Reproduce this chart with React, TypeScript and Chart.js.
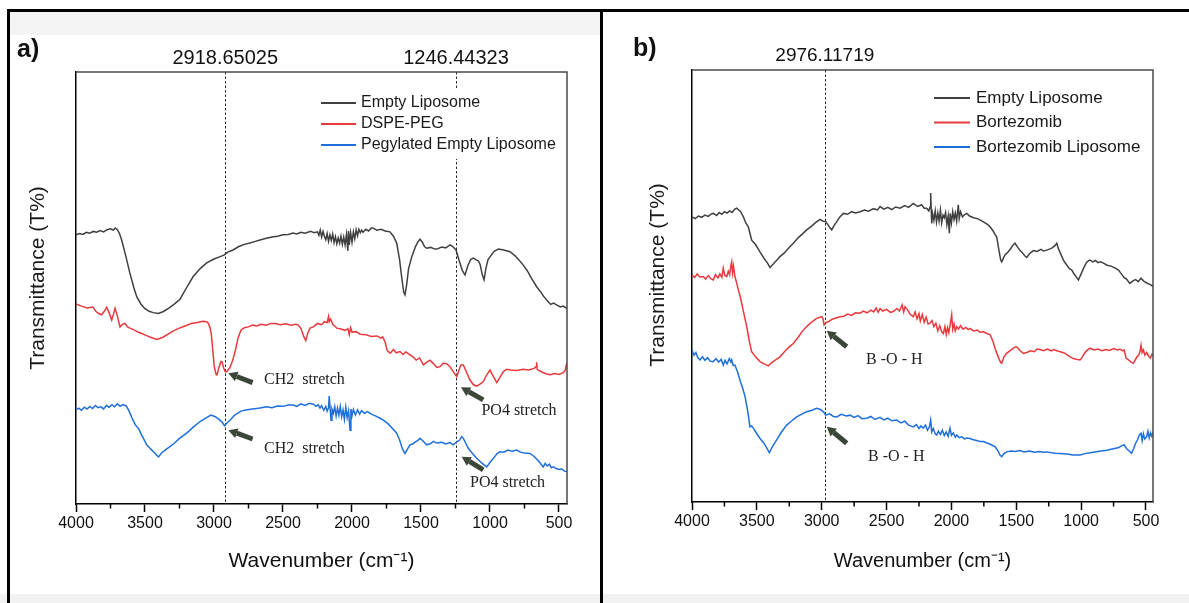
import React, { useEffect, useRef } from "react";
import { Chart, registerables } from "chart.js";
Chart.register(...registerables);

type P = [number, number];

// ---------- Panel a data (wavenumber, transmittance in arbitrary %) ----------
const emptyLiposomeA: P[] = [
  [4000,62.3],[3975,62.6],[3950,62.4],[3925,62.9],[3900,62.7],[3875,63.1],[3850,62.9],[3825,63.3],[3800,63.0],[3775,63.5],
  [3750,63.7],[3730,63.4],[3715,63.9],[3700,63.5],[3685,62.6],[3669,61.1],[3640,57.5],[3610,53.5],[3580,50.0],[3560,48.0],
  [3530,46.3],[3500,45.2],[3470,44.6],[3440,44.3],[3404,44.1],[3370,44.5],[3330,45.3],[3290,46.2],[3246,47.4],[3200,50.0],
  [3152,52.6],[3100,54.5],[3053,55.8],[3000,56.7],[2960,57.2],[2928,57.6],[2900,58.3],[2862,58.8],[2820,59.6],[2780,60.1],
  [2740,60.4],[2700,60.8],[2667,61.1],[2620,61.5],[2580,61.8],[2540,62.0],[2500,62.3],[2460,62.4],[2428,62.7],[2400,62.5],
  [2370,62.9],[2340,62.7],[2300,63.1],[2275,62.8],[2250,63.0],[2240,62.2],[2230,63.4],[2220,61.8],[2210,63.1],[2200,62.0],
  [2190,61.2],[2180,62.6],[2170,60.8],[2160,62.3],[2150,61.0],[2140,62.5],[2130,60.5],[2120,61.9],[2110,60.2],[2100,61.6],
  [2090,60.4],[2080,62.0],[2070,60.1],[2060,61.8],[2050,60.0],[2040,62.4],[2030,58.6],[2025,63.2],[2020,60.0],[2010,62.8],
  [2000,60.6],[1990,63.0],[1980,61.4],[1970,63.5],[1960,62.1],[1950,63.6],[1940,62.8],[1930,63.4],[1920,62.9],[1900,63.6],
  [1880,63.2],[1860,63.9],[1848,63.9],[1820,63.4],[1790,63.6],[1760,63.2],[1725,63.0],[1700,62.0],[1676,60.4],[1655,56.5],
  [1640,52.5],[1625,49.0],[1616,48.4],[1605,50.5],[1590,54.5],[1567,57.2],[1540,59.6],[1520,60.8],[1507,61.3],[1490,60.6],
  [1475,59.6],[1459,59.2],[1430,59.4],[1400,59.0],[1386,59.0],[1350,59.5],[1320,59.3],[1290,60.0],[1270,59.6],[1246,58.8],
  [1225,56.5],[1200,54.0],[1181,53.0],[1160,55.2],[1140,56.6],[1121,56.9],[1100,56.5],[1085,56.3],[1072,55.5],[1055,53.0],
  [1043,51.9],[1030,54.5],[1015,56.5],[1000,57.2],[970,58.5],[940,59.0],[900,58.8],[855,58.4],[820,57.5],[790,56.5],
  [759,55.3],[730,54.0],[700,52.3],[662,50.3],[630,49.0],[610,48.0],[589,47.2],[560,46.2],[540,46.5],[517,46.1],
  [490,45.6],[470,45.8],[444,45.3],
];

const dspePegA: P[] = [
  [4000,46.3],[3960,45.8],[3920,45.4],[3877,45.6],[3857,44.6],[3835,44.1],[3814,43.8],[3795,44.6],[3778,45.5],[3760,44.3],
  [3741,42.6],[3728,44.0],[3717,45.3],[3700,43.5],[3681,41.0],[3663,41.6],[3645,41.8],[3627,41.0],[3609,40.7],[3580,40.3],
  [3550,39.8],[3520,39.4],[3497,39.1],[3460,38.6],[3413,38.1],[3370,38.6],[3330,39.4],[3304,39.9],[3260,40.6],[3210,41.2],
  [3164,41.8],[3120,42.0],[3080,42.3],[3053,42.2],[3040,41.8],[3031,41.0],[3020,39.5],[3010,36.0],[2998,31.8],[2985,30.0],
  [2978,29.9],[2965,31.5],[2950,33.0],[2942,32.9],[2930,31.5],[2918,30.6],[2908,30.6],[2895,31.2],[2887,31.4],[2865,33.2],
  [2845,35.6],[2825,38.5],[2804,40.3],[2780,40.8],[2750,41.0],[2720,41.4],[2690,41.2],[2660,41.6],[2620,41.4],[2590,41.8],
  [2554,41.8],[2520,41.5],[2480,41.7],[2440,41.4],[2410,41.6],[2388,41.4],[2370,40.6],[2350,38.8],[2335,37.8],[2320,39.6],
  [2304,40.7],[2280,41.0],[2250,41.8],[2220,41.5],[2200,42.2],[2180,42.0],[2170,43.4],[2165,42.2],[2155,42.8],[2140,41.6],
  [2125,41.2],[2110,40.7],[2080,40.5],[2050,40.2],[2030,40.6],[2020,39.2],[2010,40.8],[2000,39.8],[1971,39.9],[1940,39.3],
  [1900,39.2],[1860,38.8],[1820,38.9],[1790,38.4],[1778,38.7],[1760,37.5],[1745,35.5],[1735,35.2],[1722,34.9],[1700,35.8],
  [1680,35.0],[1652,35.3],[1630,34.6],[1610,35.2],[1580,34.5],[1555,34.0],[1535,33.3],[1510,33.8],[1483,32.2],[1460,32.8],
  [1435,33.3],[1410,32.5],[1385,31.6],[1362,31.8],[1340,32.6],[1314,32.5],[1290,31.8],[1265,30.6],[1241,29.5],[1225,31.0],
  [1210,32.2],[1193,32.2],[1170,30.5],[1145,28.7],[1120,27.6],[1096,27.3],[1070,27.8],[1049,28.3],[1025,29.8],[1000,31.0],
  [975,29.5],[951,28.1],[930,29.2],[904,30.6],[880,31.2],[850,31.0],[807,30.9],[760,31.2],[720,31.0],[680,31.4],
  [666,31.8],[662,32.8],[658,31.2],[650,31.0],[620,30.5],[590,30.1],[565,29.9],[530,30.2],[500,30.0],[469,30.4],
  [455,31.0],[444,32.6],
];

const pegylatedLiposomeA: P[] = [
  [4000,21.8],[3980,22.2],[3960,21.7],[3940,22.4],[3920,22.0],[3900,22.6],[3880,22.1],[3860,22.8],[3840,22.3],[3820,22.5],
  [3800,22.0],[3780,22.8],[3760,22.4],[3740,23.0],[3720,22.5],[3700,23.2],[3680,22.6],[3660,23.0],[3636,22.7],[3615,21.5],
  [3594,19.9],[3570,18.3],[3545,17.4],[3525,16.0],[3505,14.8],[3488,13.7],[3460,12.8],[3430,11.8],[3402,10.9],[3380,11.8],
  [3350,12.6],[3319,13.3],[3290,14.0],[3250,15.2],[3198,16.4],[3150,17.8],[3101,19.1],[3060,19.9],[3022,20.6],[2990,20.2],
  [2957,19.4],[2940,18.9],[2924,18.1],[2905,18.8],[2884,19.4],[2850,20.6],[2804,21.5],[2760,21.8],[2720,22.0],[2667,22.2],
  [2620,22.5],[2580,22.3],[2540,22.7],[2500,22.6],[2460,22.9],[2425,22.9],[2400,22.6],[2370,23.2],[2340,22.8],[2310,23.3],
  [2280,23.1],[2260,22.6],[2245,23.0],[2232,22.2],[2220,22.8],[2205,21.7],[2190,22.6],[2180,21.5],[2170,22.3],[2165,25.0],
  [2158,21.8],[2152,19.4],[2145,22.0],[2135,21.0],[2125,22.5],[2115,20.4],[2105,22.2],[2095,20.6],[2085,22.6],[2075,20.2],
  [2065,21.8],[2055,19.6],[2045,22.4],[2035,20.0],[2025,21.6],[2014,17.1],[2008,22.0],[2000,20.4],[1990,21.9],[1975,20.6],
  [1960,21.8],[1945,20.8],[1930,21.6],[1910,21.0],[1888,21.4],[1860,20.8],[1830,20.4],[1800,19.9],[1773,19.4],[1740,18.6],
  [1710,17.6],[1690,16.9],[1676,16.4],[1655,14.8],[1635,12.8],[1616,11.7],[1600,12.6],[1580,13.7],[1560,13.9],[1540,14.4],
  [1520,14.8],[1507,15.2],[1485,14.6],[1459,13.7],[1430,14.0],[1410,14.5],[1386,14.1],[1350,14.3],[1320,13.9],[1290,14.2],
  [1266,13.7],[1241,14.4],[1220,14.8],[1205,15.6],[1193,15.2],[1175,14.0],[1157,12.9],[1130,11.8],[1096,10.6],[1060,9.5],
  [1024,8.6],[1000,9.6],[970,10.8],[950,11.6],[928,12.1],[900,12.0],[870,12.5],[840,12.2],[807,12.5],[780,12.0],
  [750,11.8],[710,11.7],[680,11.0],[650,10.0],[630,9.2],[614,8.6],[600,9.4],[585,8.8],[570,9.2],[555,8.4],
  [541,8.6],[520,8.2],[500,8.0],[480,8.1],[460,7.6],[444,7.5],
];

// ---------- Panel b data ----------
const emptyLiposomeB: P[] = [
  [4000,66.0],[3975,65.6],[3950,66.2],[3925,65.9],[3900,66.4],[3875,66.1],[3850,66.7],[3836,66.8],[3810,66.3],[3790,67.0],
  [3770,66.6],[3750,67.2],[3730,66.9],[3710,67.4],[3690,67.0],[3670,67.8],[3655,68.0],[3640,67.6],[3625,67.2],[3604,66.0],
  [3585,64.6],[3566,63.7],[3550,61.8],[3540,60.6],[3510,59.6],[3476,57.9],[3440,56.2],[3420,55.4],[3399,54.3],[3370,55.2],
  [3345,56.0],[3322,56.8],[3290,57.6],[3260,58.6],[3219,59.9],[3180,61.2],[3150,62.0],[3116,63.0],[3080,63.8],[3050,64.6],
  [3013,65.4],[2990,65.0],[2969,64.9],[2950,64.1],[2935,63.4],[2923,63.0],[2905,64.0],[2884,64.9],[2860,66.0],[2833,66.8],
  [2800,66.6],[2770,67.2],[2740,66.9],[2705,67.2],[2670,67.6],[2640,67.3],[2600,67.9],[2570,67.6],[2550,68.4],[2520,67.8],
  [2490,68.2],[2460,67.7],[2430,68.3],[2396,68.0],[2360,68.6],[2330,68.2],[2294,69.1],[2260,68.4],[2230,68.8],[2210,68.0],
  [2191,68.0],[2175,67.4],[2165,68.3],[2160,71.5],[2155,67.0],[2152,64.5],[2145,66.8],[2135,65.2],[2125,67.4],[2115,64.8],
  [2105,66.9],[2095,65.0],[2085,67.6],[2075,64.6],[2065,66.4],[2055,65.8],[2045,67.0],[2035,64.2],[2025,66.2],[2016,62.2],
  [2010,66.8],[2000,64.6],[1990,67.2],[1980,65.4],[1970,66.9],[1960,65.0],[1947,68.8],[1940,65.6],[1930,67.2],[1915,66.0],
  [1900,66.5],[1882,66.8],[1860,66.2],[1830,65.8],[1800,65.6],[1780,65.3],[1750,64.8],[1720,64.2],[1702,63.7],[1680,62.8],
  [1665,62.0],[1651,61.4],[1635,58.5],[1620,56.0],[1612,55.6],[1600,56.4],[1587,57.2],[1560,58.0],[1540,58.8],[1525,59.5],
  [1510,59.9],[1490,59.0],[1470,58.2],[1450,57.6],[1435,57.0],[1419,56.6],[1400,57.4],[1385,57.8],[1368,58.2],[1340,58.0],
  [1310,58.5],[1290,58.1],[1265,58.3],[1240,58.6],[1220,58.9],[1200,59.4],[1188,59.9],[1175,58.6],[1160,57.6],[1137,56.0],
  [1110,54.8],[1090,54.0],[1072,53.7],[1050,52.6],[1035,52.0],[1021,51.4],[1000,52.8],[980,54.2],[960,55.4],[945,55.8],
  [931,56.0],[910,55.6],[890,55.9],[870,55.4],[850,55.6],[828,55.3],[800,54.8],[770,54.6],[740,54.2],[712,53.7],
  [690,52.8],[670,52.0],[650,51.6],[625,50.6],[600,51.2],[580,51.5],[560,51.0],[538,51.8],[520,51.2],[500,50.8],
  [480,50.5],[465,50.3],[452,50.0],[446,49.8],
];

const bortezomibB: P[] = [
  [4000,52.5],[3980,52.0],[3960,52.8],[3940,52.1],[3913,52.2],[3895,51.6],[3875,52.4],[3855,51.7],[3836,51.4],[3820,52.6],
  [3800,51.9],[3785,52.8],[3770,52.0],[3759,54.1],[3748,52.5],[3732,52.2],[3720,53.4],[3710,52.6],[3700,54.8],[3694,55.6],
  [3688,53.0],[3680,54.6],[3669,52.2],[3655,50.6],[3643,49.1],[3630,47.8],[3617,46.0],[3600,43.6],[3578,40.6],[3560,37.5],
  [3540,34.8],[3510,33.6],[3476,32.5],[3440,31.9],[3412,31.5],[3380,32.4],[3350,33.0],[3322,33.6],[3280,35.0],[3250,35.9],
  [3219,36.7],[3180,38.2],[3150,39.5],[3116,40.6],[3080,41.6],[3039,42.5],[3000,42.9],[2990,42.4],[2982,41.0],[2965,41.6],
  [2949,41.7],[2920,42.3],[2890,42.6],[2859,42.9],[2830,43.0],[2800,43.5],[2770,43.2],[2740,43.8],[2705,43.7],[2680,44.2],
  [2650,43.8],[2620,44.4],[2600,44.0],[2580,44.9],[2565,43.9],[2550,44.8],[2530,44.2],[2500,44.6],[2470,43.9],[2448,44.1],
  [2420,44.8],[2400,44.2],[2380,45.6],[2368,44.0],[2358,45.2],[2340,44.6],[2320,43.5],[2294,42.9],[2280,44.0],[2265,42.4],
  [2250,43.6],[2240,41.9],[2225,43.4],[2210,41.6],[2195,42.8],[2180,41.2],[2165,41.4],[2150,42.0],[2135,40.6],[2120,41.4],
  [2105,39.6],[2090,40.8],[2075,39.4],[2062,39.0],[2050,40.6],[2040,38.8],[2030,40.4],[2020,39.2],[2010,41.0],[1998,43.3],
  [1990,40.0],[1980,41.2],[1970,39.6],[1959,40.6],[1945,40.0],[1930,40.8],[1910,40.0],[1890,40.4],[1870,39.9],[1857,40.2],
  [1830,39.6],[1800,39.8],[1780,39.3],[1754,39.4],[1725,39.0],[1702,38.7],[1680,37.2],[1664,35.6],[1640,33.6],[1620,32.3],
  [1612,32.1],[1595,33.6],[1574,34.4],[1540,35.2],[1510,35.9],[1496,35.9],[1470,35.0],[1445,34.4],[1419,34.6],[1390,35.0],
  [1360,34.8],[1340,35.4],[1317,35.3],[1290,35.0],[1260,35.4],[1230,35.0],[1210,35.3],[1188,35.0],[1160,34.8],[1130,34.5],
  [1105,34.0],[1085,33.6],[1060,33.2],[1030,33.0],[1008,32.9],[990,33.6],[970,34.6],[950,35.2],[931,35.6],[900,35.2],
  [870,35.4],[840,35.0],[810,35.3],[780,35.1],[750,35.5],[720,35.2],[700,35.4],[680,35.0],[669,35.2],[660,34.2],
  [654,33.3],[630,32.8],[615,32.4],[597,32.1],[585,32.8],[570,33.6],[555,34.0],[545,35.0],[538,36.3],[530,34.6],
  [520,35.2],[509,34.0],[495,34.6],[480,33.8],[466,33.3],[455,34.2],[443,34.0],
];

const bortezomibLiposomeB: P[] = [
  [4000,35.2],[3985,34.0],[3970,34.6],[3955,33.4],[3938,32.9],[3920,33.6],[3900,32.8],[3880,33.4],[3860,32.6],[3836,32.5],
  [3815,33.2],[3795,32.4],[3775,33.0],[3759,31.7],[3745,32.8],[3730,32.0],[3712,33.2],[3700,32.4],[3694,32.9],[3682,31.6],
  [3669,31.7],[3650,30.2],[3630,28.2],[3610,26.4],[3591,24.4],[3570,21.0],[3553,17.4],[3540,17.6],[3527,17.1],[3500,15.8],
  [3476,14.7],[3450,13.8],[3429,12.8],[3404,11.4],[3380,12.8],[3347,14.4],[3310,16.2],[3270,17.8],[3230,18.8],[3193,19.7],
  [3150,20.4],[3116,20.9],[3080,21.2],[3039,21.7],[3010,21.4],[2990,21.0],[2969,20.1],[2940,20.4],[2910,19.8],[2884,19.7],
  [2850,20.3],[2810,19.9],[2782,20.1],[2750,19.6],[2720,20.0],[2690,19.3],[2653,19.4],[2620,19.8],[2590,19.1],[2550,19.6],
  [2520,19.0],[2490,19.4],[2460,18.8],[2422,19.0],[2390,18.3],[2360,18.7],[2330,17.8],[2294,17.4],[2270,17.9],[2250,17.0],
  [2235,17.6],[2217,17.1],[2200,17.8],[2185,16.6],[2170,17.4],[2160,19.0],[2152,16.2],[2140,17.0],[2125,15.8],[2113,15.5],
  [2100,16.4],[2085,15.6],[2070,16.6],[2055,15.4],[2040,16.2],[2025,15.2],[2011,17.1],[2000,15.4],[1985,16.0],[1970,15.0],
  [1959,15.5],[1940,14.9],[1920,15.1],[1900,14.6],[1880,14.8],[1857,14.7],[1830,14.4],[1800,14.2],[1780,14.0],[1754,14.0],
  [1720,13.6],[1690,13.2],[1664,12.8],[1640,11.8],[1625,10.8],[1612,10.5],[1595,11.2],[1574,11.6],[1540,11.8],[1510,11.7],
  [1471,11.9],[1440,11.6],[1400,11.8],[1360,11.5],[1320,11.7],[1290,11.5],[1265,11.6],[1230,11.4],[1200,11.3],[1160,11.2],
  [1111,11.1],[1060,10.9],[1008,10.9],[970,11.2],[931,11.4],[893,11.6],[850,11.8],[800,12.0],[770,12.2],[741,12.4],
  [710,12.6],[690,13.0],[669,13.2],[650,12.4],[630,11.8],[611,11.3],[595,12.4],[580,13.6],[565,14.4],[550,15.6],
  [538,15.9],[530,14.2],[520,15.8],[510,14.6],[495,15.1],[485,16.4],[475,14.8],[465,16.0],[455,15.2],[443,16.3],
];

const seriesNamesA = ["Empty Liposome", "DSPE-PEG", "Pegylated Empty Liposome"];
const seriesNamesB = ["Empty Liposome", "Bortezomib", "Bortezomib Liposome"];
const markersA = [2918.65025, 1246.44323];
const markersB = [2976.11719];
const xTickValues = [4000, 3500, 3000, 2500, 2000, 1500, 1000, 500];
const minorTickValues = [3750, 3250, 2750, 2250, 1750, 1250, 750];

type Note = { text: string; wn: number; t: number; tail: P; head: P };
const notesA: Note[] = [
  { text: "CH2  stretch", wn: 2638, t: 28.8, tail: [2720, 28.1], head: [2896, 30.25] },
  { text: "CH2  stretch", wn: 2638, t: 12.7, tail: [2720, 15.05], head: [2896, 17.1] },
  { text: "PO4 stretch", wn: 1062, t: 21.6, tail: [1049, 24.1], head: [1210, 27.0] },
  { text: "PO4 stretch", wn: 1145, t: 5.0, tail: [1049, 7.9], head: [1205, 10.95] },
];
const notesB: Note[] = [
  { text: "B -O - H", wn: 2658, t: 32.9, tail: [2807, 35.95], head: [2961, 39.65] },
  { text: "B -O - H", wn: 2643, t: 10.4, tail: [2807, 13.6], head: [2961, 17.4] },
];

const COLORS = ["#404040", "#e8393d", "#1f6fdb"];
const SANS = '"Liberation Sans", Arial, sans-serif';
const SERIF = '"Liberation Serif", "Times New Roman", serif';

type PanelCfg = {
  offsetX: number;
  width: number;
  area: { left: number; top: number; right: number; bottom: number };
  xMin: number;
  names: string[];
  series: P[][];
  markers: number[];
  markerFont: number;
  notes: Note[];
  letter: string;
  letterPos: P;
  xTitleSize: number;
  xTitlePad: number;
  yTitle: P;
  legend: { lx0: number; lx1: number; tx: number; y0: number; dy: number; font: number; box?: [number, number, number, number] };
};

const panelA: PanelCfg = {
  offsetX: 0,
  width: 600,
  area: { left: 76, top: 72, right: 567, bottom: 504 },
  xMin: 442,
  names: seriesNamesA,
  series: [emptyLiposomeA, dspePegA, pegylatedLiposomeA],
  markers: markersA,
  markerFont: 20,
  notes: notesA,
  letter: "a)",
  letterPos: [17, 50],
  xTitleSize: 21,
  xTitlePad: 29,
  yTitle: [38, 278],
  legend: { lx0: 321, lx1: 356, tx: 361, y0: 103, dy: 21, font: 16, box: [316, 88, 246, 71] },
};

const panelB: PanelCfg = {
  offsetX: 600,
  width: 589,
  area: { left: 92, top: 70, right: 553, bottom: 502 },
  xMin: 446,
  names: seriesNamesB,
  series: [emptyLiposomeB, bortezomibB, bortezomibLiposomeB],
  markers: markersB,
  markerFont: 19,
  notes: notesB,
  letter: "b)",
  letterPos: [33, 49],
  xTitleSize: 20,
  xTitlePad: 30,
  yTitle: [58, 275],
  legend: { lx0: 334, lx1: 370, tx: 376, y0: 98, dy: 24.5, font: 17 },
};

function hasFont(name: string): boolean {
  const c = document.createElement("canvas").getContext("2d");
  if (!c) return false;
  const s = "0123456789 Wavenumber";
  c.font = "40px monospace";
  const a = c.measureText(s).width;
  c.font = `40px "${name}", monospace`;
  const b = c.measureText(s).width;
  return Math.abs(a - b) > 0.5;
}

function drawArrow(ctx: CanvasRenderingContext2D, x1: number, y1: number, x2: number, y2: number) {
  const ang = Math.atan2(y2 - y1, x2 - x1);
  const headLen = 9;
  const headW = 5;
  const bx = x2 - headLen * Math.cos(ang);
  const by = y2 - headLen * Math.sin(ang);
  ctx.strokeStyle = "#3b4638";
  ctx.fillStyle = "#3b4638";
  ctx.lineWidth = 5;
  ctx.lineCap = "butt";
  ctx.beginPath();
  ctx.moveTo(x1, y1);
  ctx.lineTo(bx, by);
  ctx.stroke();
  ctx.beginPath();
  ctx.moveTo(x2, y2);
  ctx.lineTo(bx + headW * Math.sin(ang), by - headW * Math.cos(ang));
  ctx.lineTo(bx - headW * Math.sin(ang), by + headW * Math.cos(ang));
  ctx.closePath();
  ctx.fill();
}

function makeDecor(cfg: PanelCfg) {
  return {
    id: "decor",
    beforeDatasetsDraw(chart: any) {
      const { ctx, chartArea: a, scales } = chart;
      ctx.save();
      ctx.strokeStyle = "#2a2a2a";
      ctx.lineWidth = 1;
      ctx.setLineDash([2.5, 2]);
      for (const m of cfg.markers) {
        const px = Math.round(scales.x.getPixelForValue(m)) + 0.5;
        ctx.beginPath();
        ctx.moveTo(px, a.top);
        ctx.lineTo(px, a.bottom);
        ctx.stroke();
      }
      ctx.restore();
    },
    afterDraw(chart: any) {
      const { ctx, chartArea: a, scales } = chart;
      const x = scales.x;
      const y = scales.y;
      ctx.save();
      // top & right frame
      ctx.strokeStyle = "#4a4a4a";
      ctx.lineWidth = 1.5;
      ctx.beginPath();
      ctx.moveTo(a.left, a.top);
      ctx.lineTo(a.right, a.top);
      ctx.lineTo(a.right, a.bottom);
      ctx.stroke();
      // minor ticks
      ctx.strokeStyle = "#000";
      for (const v of minorTickValues) {
        const px = x.getPixelForValue(v);
        ctx.beginPath();
        ctx.moveTo(px, a.bottom);
        ctx.lineTo(px, a.bottom + 4.5);
        ctx.stroke();
      }
      // marker labels
      ctx.fillStyle = "#111";
      ctx.font = `${cfg.markerFont}px ${SANS}`;
      ctx.textAlign = "center";
      ctx.textBaseline = "middle";
      for (const m of cfg.markers) {
        ctx.fillText(m.toFixed(5), x.getPixelForValue(m), a.top - 14);
      }
      // legend
      const L = cfg.legend;
      if (L.box) {
        ctx.fillStyle = "#fff";
        ctx.fillRect(L.box[0], L.box[1], L.box[2], L.box[3]);
      }
      ctx.font = `${L.font}px ${SANS}`;
      ctx.textAlign = "left";
      chart.data.datasets.forEach((ds: any, i: number) => {
        const ly = L.y0 + i * L.dy;
        ctx.strokeStyle = ds.borderColor;
        ctx.lineWidth = 2;
        ctx.beginPath();
        ctx.moveTo(L.lx0, ly);
        ctx.lineTo(L.lx1, ly);
        ctx.stroke();
        ctx.fillStyle = "#1a1a1a";
        ctx.fillText(ds.label, L.tx, ly);
      });
      // notes + arrows
      for (const n of cfg.notes) {
        drawArrow(
          ctx,
          x.getPixelForValue(n.tail[0]),
          y.getPixelForValue(n.tail[1]),
          x.getPixelForValue(n.head[0]),
          y.getPixelForValue(n.head[1])
        );
        ctx.fillStyle = "#222";
        ctx.font = `16px ${SERIF}`;
        ctx.textAlign = "left";
        ctx.textBaseline = "middle";
        ctx.fillText(n.text, x.getPixelForValue(n.wn), y.getPixelForValue(n.t));
      }
      // y title
      ctx.save();
      ctx.translate(cfg.yTitle[0], cfg.yTitle[1]);
      ctx.rotate(-Math.PI / 2);
      ctx.fillStyle = "#1a1a1a";
      ctx.font = `21px ${SANS}`;
      ctx.textAlign = "center";
      ctx.textBaseline = "middle";
      ctx.fillText("Transmittance (T%)", 0, 0);
      ctx.restore();
      // panel letter
      ctx.fillStyle = "#111";
      ctx.font = `bold 25px ${SANS}`;
      ctx.textAlign = "left";
      ctx.textBaseline = "middle";
      ctx.fillText(cfg.letter, cfg.letterPos[0], cfg.letterPos[1]);
      ctx.restore();
    },
  };
}

function buildChart(canvas: HTMLCanvasElement, cfg: PanelCfg) {
  const narrow = hasFont("Liberation Sans Narrow");
  const tickFont = narrow
    ? { family: '"Liberation Sans Narrow", "Liberation Sans", Arial, sans-serif', size: 19 }
    : { family: SANS, size: 16 };
  const H = 603;
  return new Chart(canvas, {
    type: "line",
    data: {
      datasets: cfg.series.map((s, i) => ({
        label: cfg.names[i],
        data: s.map(([wx, ty]) => ({ x: wx, y: ty })),
        borderColor: COLORS[i],
        backgroundColor: COLORS[i],
        borderWidth: 1.5,
        pointRadius: 0,
        fill: false,
        tension: 0,
      })),
    },
    options: {
      responsive: false,
      animation: false,
      events: [],
      layout: { padding: { left: 0, top: cfg.area.top, right: cfg.width - cfg.area.right, bottom: 0 } },
      plugins: { legend: { display: false }, tooltip: { enabled: false }, title: { display: false } },
      scales: {
        x: {
          type: "linear",
          reverse: true,
          min: cfg.xMin,
          max: 4000,
          afterBuildTicks: (s: any) => {
            s.ticks = xTickValues.map((v) => ({ value: v }));
          },
          afterFit: (s: any) => {
            s.height = H - cfg.area.bottom;
          },
          ticks: {
            autoSkip: false,
            maxRotation: 0,
            minRotation: 0,
            padding: 2,
            color: "#111",
            font: tickFont,
            callback: (v: any) => String(v),
          },
          grid: { drawOnChartArea: false, drawTicks: true, tickLength: 8, tickColor: "#000", tickWidth: 1.5 },
          border: { display: true, color: "#000", width: 1.5 },
          title: {
            display: true,
            text: "Wavenumber (cm\u207B\u00B9)",
            color: "#111",
            font: { family: SANS, size: cfg.xTitleSize },
            padding: { top: 0, bottom: cfg.xTitlePad },
          },
        },
        y: {
          type: "linear",
          min: 0,
          max: 100,
          afterFit: (s: any) => {
            s.width = cfg.area.left;
          },
          ticks: { display: false },
          grid: { display: false },
          border: { display: true, color: "#000", width: 1.5 },
        },
      },
    } as any,
    plugins: [makeDecor(cfg) as any],
  });
}

function PanelChart({ cfg }: { cfg: PanelCfg }) {
  const ref = useRef<HTMLCanvasElement>(null);
  useEffect(() => {
    if (!ref.current) return;
    const chart = buildChart(ref.current, cfg);
    return () => chart.destroy();
  }, [cfg]);
  return (
    <canvas
      ref={ref}
      width={cfg.width}
      height={603}
      style={{ position: "absolute", left: cfg.offsetX, top: 0, width: cfg.width, height: 603 }}
    />
  );
}

export default function App() {
  return (
    <div style={{ position: "fixed", left: 0, top: 0, width: 1189, height: 603, background: "#fff", overflow: "hidden" }}>
      <div style={{ position: "absolute", left: 10, top: 12, width: 590, height: 23, background: "#f4f4f4" }} />
      <div style={{ position: "absolute", left: 0, top: 594, width: 1189, height: 9, background: "#f2f2f2" }} />
      <PanelChart cfg={panelA} />
      <PanelChart cfg={panelB} />
      <div style={{ position: "absolute", left: 7, top: 9, width: 1182, height: 3, background: "#000" }} />
      <div style={{ position: "absolute", left: 7, top: 9, width: 2.5, height: 594, background: "#000" }} />
      <div style={{ position: "absolute", left: 600, top: 9, width: 2.5, height: 594, background: "#000" }} />
    </div>
  );
}
